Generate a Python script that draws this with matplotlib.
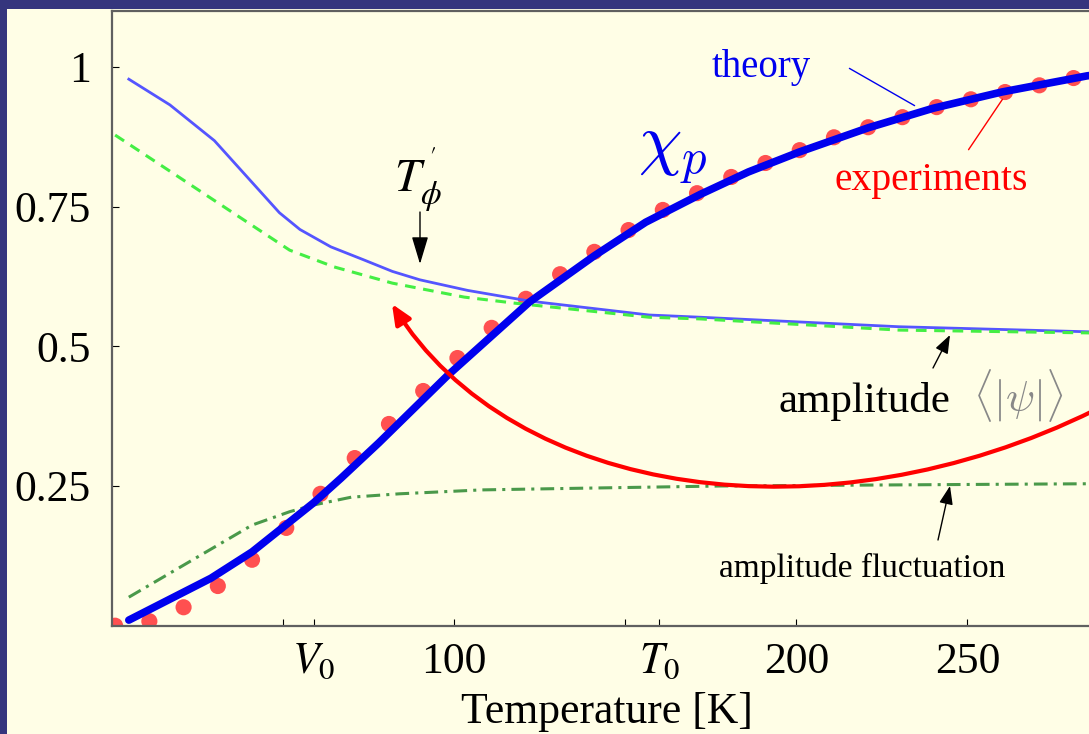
import matplotlib.pyplot as plt
from matplotlib.patches import Rectangle, FancyArrowPatch
from matplotlib.path import Path

plt.rcParams['font.family'] = ['Liberation Serif', 'DejaVu Serif']
plt.rcParams['mathtext.fontset'] = 'stix'

W, H = 1089, 734
NAVY = '#35357d'
PAPER = '#fffee6'

# experiments (red dots)
exp_T = [1, 11, 21, 31, 41, 51, 61, 71, 81, 91, 101, 111, 121, 131, 141,
         151, 161, 171, 181, 191, 201, 211, 221, 231, 241, 251, 261, 271, 281]
exp_chi = [0.0, 0.008, 0.033, 0.071, 0.118, 0.175, 0.236, 0.300, 0.361, 0.420,
           0.479, 0.533, 0.585, 0.629, 0.669, 0.708, 0.744, 0.774, 0.803, 0.828,
           0.851, 0.874, 0.892, 0.910, 0.928, 0.942, 0.955, 0.967, 0.980]

# theory chi_p (thick blue)
theo_T = [5, 29, 41, 59, 67, 78, 98, 122, 141, 156, 172, 186, 201, 221, 240, 260, 285, 300]
theo_chi = [0.010, 0.085, 0.132, 0.220, 0.264, 0.327, 0.447, 0.579, 0.662, 0.722,
            0.772, 0.812, 0.848, 0.891, 0.926, 0.955, 0.984, 0.995]

# amplitude <|psi|> (thin blue)
amp_T = [5, 17, 30, 49, 55, 64, 73.5, 82, 90, 104, 122, 157, 172, 230, 285, 300]
amp = [0.978, 0.932, 0.868, 0.739, 0.709, 0.678, 0.655, 0.634, 0.619, 0.600, 0.581,
       0.556, 0.552, 0.535, 0.526, 0.524]

# green dashed
gd_T = [1, 52, 65, 82, 103, 118, 157, 172, 230, 285, 300]
gd = [0.878, 0.672, 0.642, 0.613, 0.588, 0.577, 0.552, 0.549, 0.529, 0.524, 0.522]

# amplitude fluctuation (dash-dot)
fl_T = [5, 41, 52, 59, 70, 84, 108, 137, 178, 230, 285, 300]
fl = [0.051, 0.180, 0.204, 0.216, 0.230, 0.236, 0.243, 0.246, 0.250, 0.252, 0.254, 0.254]

x_ticks = [50, 59, 100, 150, 160, 200, 250, 300]
x_labels = ['', '$V_0$', '100', '', '$T_0$', '200', '250', '']
y_ticks = [0.25, 0.5, 0.75, 1.0]
y_labels = ['0.25', '0.5', '0.75', '1']


def px(x, y):
    # pixel position -> figure fraction
    return (x / W, 1 - y / H)


fig = plt.figure(figsize=(W / 100, H / 100), dpi=100)
fig.patch.set_facecolor(NAVY)
fig.add_artist(Rectangle((7 / W, 0), 1, 1 - 9 / H, transform=fig.transFigure,
                         facecolor=PAPER, edgecolor='none', zorder=-10))

ax = fig.add_axes([111.7 / W, 1 - 625.7 / H, 1026.9 / W, 614.7 / H])
ax.set_facecolor(PAPER)
ax.set_xlim(0, 300)
ax.set_ylim(0, 1.1)

ax.scatter(exp_T, exp_chi, s=135, color='#ff5050', edgecolors='none', zorder=2)
ax.plot(theo_T, theo_chi, color='#0000ee', lw=5.5, solid_capstyle='round',
        solid_joinstyle='round', zorder=3)
ax.plot(amp_T, amp, color='#5555ff', lw=2, zorder=2)
l1, = ax.plot(gd_T, gd, color='#44ee44', lw=2.2, zorder=2)
l1.set_dashes([3.5, 2.5])
l2, = ax.plot(fl_T, fl, color='#4a994a', lw=2.2, zorder=2)
l2.set_dashes([4.5, 2, 1, 2])

for s in ['left', 'bottom', 'top', 'right']:
    ax.spines[s].set_color('#606060')
    ax.spines[s].set_linewidth(1.6)

ax.set_xticks(x_ticks)
ax.set_xticklabels(x_labels)
ax.set_yticks(y_ticks)
ax.set_yticklabels(y_labels)
ax.tick_params(axis='both', direction='in', length=5, width=0.8, colors='black', labelsize=31.5)
ax.tick_params(axis='x', pad=12)
ax.tick_params(axis='y', pad=15)

fig.text(*px(607, 723), 'Temperature [K]', fontsize=31.5, ha='center', va='baseline')

# labels
fig.text(*px(673, 155), r'$\chi_p$', fontsize=50, color='#0000ee', ha='center', va='center',
         math_fontfamily='cm')
fig.text(*px(712, 77), 'theory', fontsize=28, color='#0000ee', ha='left', va='baseline')
fig.text(*px(835, 190), 'experiments', fontsize=28.5, color='#ff0000', ha='left', va='baseline')
fig.text(*px(778, 412), 'amplitude', fontsize=31, color='black', ha='left', va='baseline')
fig.text(*px(973, 412), r'$\langle|\psi|\rangle$', fontsize=31, color='#888888', ha='left',
         va='baseline', math_fontfamily='cm')
fig.text(*px(1005, 577), 'amplitude fluctuation', fontsize=24, color='black', ha='right',
         va='baseline')
fig.text(*px(418, 180), r"$T_{\phi}^{\,'}$", fontsize=34, color='black', ha='center', va='center')

# pointer lines and arrows
ax.annotate('', xy=px(917, 107), xytext=px(847, 67), xycoords='figure fraction',
            arrowprops=dict(arrowstyle='-', color='#0000ee', lw=1))
ax.annotate('', xy=px(1004, 97), xytext=px(967, 152), xycoords='figure fraction',
            arrowprops=dict(arrowstyle='-', color='#ff0000', lw=1))
ax.annotate('', xy=px(420, 264), xytext=px(420, 212), xycoords='figure fraction',
            arrowprops=dict(arrowstyle='-|>,head_length=1.0,head_width=0.3', color='black',
                            lw=1, mutation_scale=17, shrinkA=0, shrinkB=0))
ax.annotate('', xy=px(950, 335), xytext=px(933, 368), xycoords='figure fraction',
            arrowprops=dict(arrowstyle='-|>,head_length=0.8,head_width=0.3', color='black',
                            lw=1, mutation_scale=14, shrinkA=0, shrinkB=0))
ax.annotate('', xy=px(950, 486), xytext=px(938, 540), xycoords='figure fraction',
            arrowprops=dict(arrowstyle='-|>,head_length=0.8,head_width=0.3', color='black',
                            lw=1, mutation_scale=14, shrinkA=0, shrinkB=0))

# red curved arrow
arc = Path([px(1095, 410), px(826, 543), px(513, 499), px(392, 304)],
           [Path.MOVETO, Path.CURVE4, Path.CURVE4, Path.CURVE4])
fig.add_artist(FancyArrowPatch(path=arc, transform=fig.transFigure,
                               arrowstyle='-|>,head_length=0.8,head_width=0.35',
                               mutation_scale=15, color='#ff0000', lw=3, zorder=5))

fig.savefig('out.png', dpi=100, facecolor=fig.get_facecolor())
